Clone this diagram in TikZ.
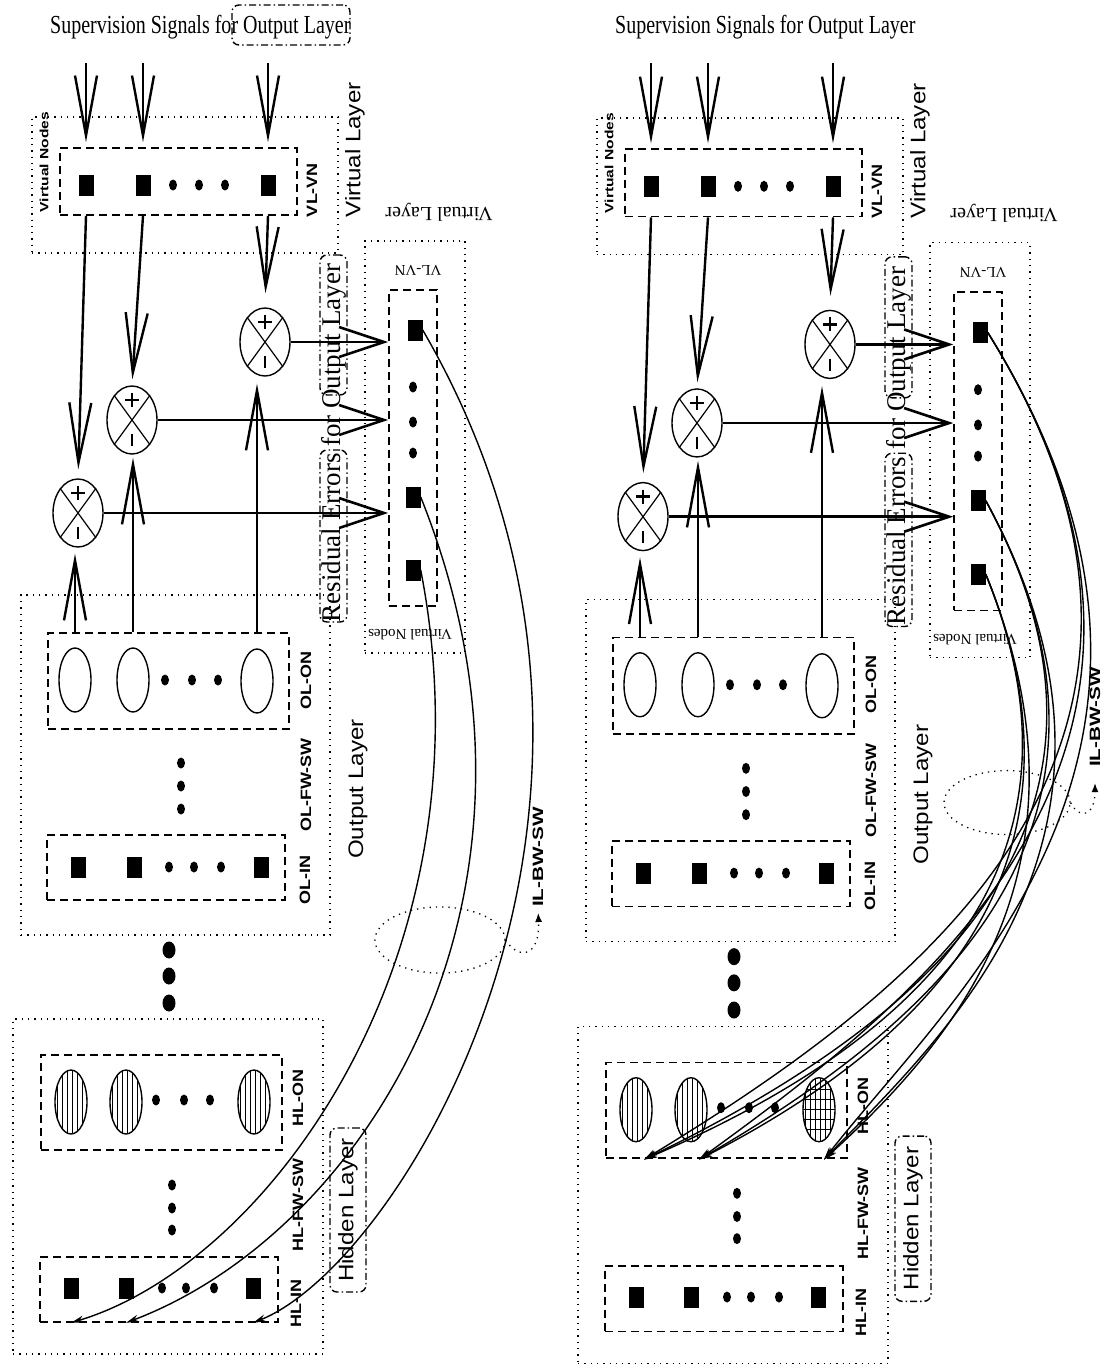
\documentclass[tikz,border=0pt]{standalone}
\usepackage{fontspec}
\setmainfont{Liberation Serif}
\setsansfont{Liberation Sans}
\usepackage{graphicx}
\usetikzlibrary{arrows.meta,shapes.geometric,fit}

\tikzset{
  dotbox/.style={draw, line width=1.3pt, dash pattern=on 1.3pt off 5pt},
  dashbox/.style={draw, line width=1.6pt, dash pattern=on 8pt off 5pt},
  dabox/.style={draw, line width=1.4pt, dash pattern=on 7pt off 3pt on 1.5pt off 3pt, rounded corners=7pt},
  sq/.style={fill=black, minimum width=15pt, minimum height=21pt, inner sep=0pt},
  dt/.style={fill=black, ellipse, minimum width=8pt, minimum height=11pt, inner sep=0pt},
  bigdot/.style={fill=black, ellipse, minimum width=13pt, minimum height=17pt, inner sep=0pt},
  neuron/.style={draw, ellipse, line width=1.4pt, minimum width=32pt, minimum height=64pt, inner sep=0pt},
  mult/.style={draw, ellipse, line width=1.4pt, minimum width=50pt, minimum height=68pt, inner sep=0pt},
  bigarrow/.style={line width=2.4pt, -{Straight Barb[length=60pt,width=22pt,line width=2.4pt]}},
  harrow/.style={line width=2.6pt, -{Straight Barb[length=45pt,width=30pt,line width=2.6pt]}},
  curve/.style={line width=1.4pt, -{Stealth[length=13pt,width=7pt]}},
  rlab/.style={rotate=90, inner sep=0pt},
  udlab/.style={rotate=180, inner sep=0pt},
  hatch/.style={path picture={\foreach \k in {-14,-9,...,16} {\draw[line width=1pt] ([xshift=\k pt]path picture bounding box.north) -- ([xshift=\k pt]path picture bounding box.south);}}},
  xhatch/.style={path picture={\foreach \k in {-14,-9,...,16} {\draw[line width=1pt] ([xshift=\k pt]path picture bounding box.north) -- ([xshift=\k pt]path picture bounding box.south);}
     \foreach \k in {-20,-10,...,20} {\draw[line width=1pt] ([yshift=\k pt]path picture bounding box.west) -- ([yshift=\k pt]path picture bounding box.east);}}},
}

\newcommand\slab[1]{\scalebox{1.2}[1]{\fontsize{15}{15}\selectfont\sffamily\bfseries #1}}
\newcommand\blab[1]{\scalebox{1.15}[1]{\fontsize{21}{21}\selectfont\sffamily #1}}
\newcommand\sz[2]{{\fontsize{#1}{#1}\selectfont #2}}
\newcommand\bx[6]{\node[#6, fit={(#2,#3) (#4,#5)}, inner sep=0pt] (#1) {};}
\newcommand\multnode[3]{%
  \node[mult] (#1) at (#2,#3) {};
  \draw[line width=1.2pt] (#1.54) -- (#1.234) (#1.126) -- (#1.306);
  \draw[line width=2.6pt] ([xshift=-7pt,yshift=20pt]#1.center) -- ([xshift=7pt,yshift=20pt]#1.center)
        ([yshift=27pt]#1.center) -- ([yshift=13pt]#1.center)
        ([yshift=-14pt]#1.center) -- ([yshift=-26pt]#1.center);
}

\newcommand\panel[2]{%
 % layer boxes
 \bx{#1-vl}{32}{117}{338}{253}{dotbox}
 \bx{#1-vlvn}{60}{148}{297}{215}{dashbox}
 \bx{#1-vl2}{365}{241}{465}{653}{dotbox}
 \bx{#1-vl2vn}{389}{290}{437}{606}{dashbox}
 \bx{#1-ol}{21}{595}{330}{935}{dotbox}
 \bx{#1-olon}{48}{633}{289}{729}{dashbox}
 \bx{#1-olin}{47}{835}{285}{900}{dashbox}
 \bx{#1-hl}{13}{1019}{323}{1354}{dotbox}
 \bx{#1-hlon}{41}{1055}{282}{1150}{dashbox}
 \bx{#1-hlin}{40}{1257}{278}{1322}{dashbox}
 % labels
 \node[rlab] (#1-lvnodes) at (44,162) {\scalebox{1.3}[1]{\fontsize{12}{12}\selectfont\sffamily\bfseries Virtual Nodes}};
 \node[rlab] (#1-lvlvn) at (312,190) {\slab{VL-VN}};
 \node[rlab] (#1-lvl) at (355,150) {\blab{Virtual Layer}};
 \node[udlab] (#1-lvl2) at (439,212) {\sz{20}{Virtual Layer}};
 \node[udlab] (#1-lvl2vn) at (418,270) {\sz{15}{VL-VN}};
 \node[udlab] (#1-lvl2nodes) at (410,635) {\sz{15}{Virtual Nodes}};
 \node[rlab] (#1-lres) at (334,443) {\sz{27}{Residual Errors for Output Layer}};
 \bx{#1-resbox1}{320}{450}{347}{622}{dabox}
 \bx{#1-resbox2}{320}{255}{347}{395}{dabox}
 \node[rlab] (#1-lolon) at (306,680) {\slab{OL-ON}};
 \node[rlab] (#1-lolfw) at (306,785) {\slab{OL-FW-SW}};
 \node[rlab] (#1-lolin) at (305,880) {\slab{OL-IN}};
 \node[rlab] (#1-lol) at (358,789) {\blab{Output Layer}};
 \node[rlab] (#1-lhlon) at (298,1098) {\slab{HL-ON}};
 \node[rlab] (#1-lhlfw) at (298,1205) {\slab{HL-FW-SW}};
 \node[rlab] (#1-lhlin) at (296,1303) {\slab{HL-IN}};
 \bx{#1-hidbox}{330}{1128}{366}{1292}{dabox}
 \node[rlab] (#1-lhid) at (348,1210) {\blab{Hidden Layer}};
 % virtual layer nodes
 \node[sq] (#1-q1) at (86,185) {};
 \node[sq] (#1-q2) at (143,185) {};
 \node[sq] (#1-q3) at (268,185) {};
 \foreach \x in {173,199,225} {\node[dt] (#1-qd\x) at (\x,185) {};}
 \node[sq] (#1-v1) at (415,330) {};
 \node[sq] (#1-v2) at (413,497) {};
 \node[sq] (#1-v3) at (413,570) {};
 \foreach \y in {387,422,453} {\node[dt] (#1-vd\y) at (413,\y) {};}
 % output layer
 \node[neuron] (#1-on1) at (75,680) {};
 \node[neuron] (#1-on2) at (133,680) {};
 \node[neuron] (#1-on3) at (257,681) {};
 \foreach \x in {165,192,218} {\node[dt] (#1-ond\x) at (\x,680) {};}
 \foreach \y in {763,786,809} {\node[dt] (#1-ofd\y) at (181,\y) {};}
 \node[sq] (#1-oi1) at (78,867) {};
 \node[sq] (#1-oi2) at (134,867) {};
 \node[sq] (#1-oi3) at (261,867) {};
 \foreach \x in {169,194,221} {\node[dt] (#1-oid\x) at (\x,867) {};}
 \foreach \y in {950,976,1003} {\node[bigdot] (#1-bd\y) at (169,\y) {};}
 % hidden layer
 \node[neuron, hatch] (#1-hn1) at (71,1102) {};
 \node[neuron, hatch] (#1-hn2) at (126,1102) {};
 \node[neuron, #2] (#1-hn3) at (254,1102) {};
 \foreach \x in {156,184,210} {\node[dt] (#1-hnd\x) at (\x,1100) {};}
 \foreach \y in {1185,1208,1230} {\node[dt] (#1-hfd\y) at (172,\y) {};}
 \node[sq] (#1-h1) at (71,1288) {};
 \node[sq] (#1-h2) at (126,1288) {};
 \node[sq] (#1-h3) at (253,1288) {};
 \foreach \x in {162,186,214} {\node[dt] (#1-hd\x) at (\x,1288) {};}
 % comparators
 \multnode{#1-m1}{78}{513}
 \multnode{#1-m2}{132}{420}
 \multnode{#1-m3}{265}{342}
 % supervision inputs
 \coordinate (#1-s1) at (86,63);
 \coordinate (#1-s2) at (143,63);
 \coordinate (#1-s3) at (268,63);
 \draw[bigarrow, shorten >=5pt] (#1-s1) -- (#1-s1 |- #1-vlvn.north);
 \draw[bigarrow, shorten >=5pt] (#1-s2) -- (#1-s2 |- #1-vlvn.north);
 \draw[bigarrow, shorten >=5pt] (#1-s3) -- (#1-s3 |- #1-vlvn.north);
 \draw[bigarrow, shorten >=9pt] (#1-q1 |- #1-vlvn.south) -- (#1-m1.north);
 \draw[bigarrow, shorten >=6pt] (#1-q2 |- #1-vlvn.south) -- (#1-m2.north);
 \draw[bigarrow, shorten >=14pt] (#1-q3 |- #1-vlvn.south) -- (#1-m3.north);
 \draw[bigarrow, shorten >=6pt] (#1-on1 |- #1-olon.north) -- (#1-on1 |- #1-m1.south);
 \draw[bigarrow, shorten >=3pt] (#1-on2 |- #1-olon.north) -- (#1-on2 |- #1-m2.south);
 \draw[bigarrow, shorten >=7pt] (#1-on3 |- #1-olon.north) -- (#1-on3 |- #1-m3.south);
 \draw[harrow] (#1-m3.east) -- (#1-m3.east -| #1-vl2vn.west);
 \draw[harrow] (#1-m2.east) -- (#1-m2.east -| #1-vl2vn.west);
 \draw[harrow] (#1-m1.east) -- (#1-m1.east -| #1-vl2vn.west);
}

\begin{document}
\begin{tikzpicture}[x=1pt, y=-1pt]
\useasboundingbox (0,0) rectangle (1116,1371);
\fill[white] (0,0) rectangle (1116,1371);

% ---------------- left panel ----------------
\node[anchor=base west, inner sep=0pt] (L-title) at (50,33) {\scalebox{.77}[1]{\fontsize{26}{26}\selectfont Supervision Signals for Output Layer}};
\bx{L-titlebox}{232}{5}{350}{45}{dabox}
\panel{L}{hatch}
\node[ellipse, dotbox, minimum width=130pt, minimum height=66pt, inner sep=0pt] (L-il) at (440,940) {};
\node[rlab] (L-ilbw) at (538,857) {\scalebox{1.38}[1]{\fontsize{15}{15}\selectfont\sffamily\bfseries IL-BW-SW}};
\draw[dotbox, -{Latex[length=9pt,width=7pt]}, shorten >=6pt] (L-il.east) .. controls (518,960) and (540,958) .. (L-ilbw.west);
\draw[curve] (L-v1.east) .. controls (690,790) and (405,1262) .. (L-h3 |- L-hlin.south);
\draw[curve] (L-v2.east) .. controls (580,895) and (365,1232) .. (L-h2 |- L-hlin.south);
\draw[curve] (L-v3.east) .. controls (495,950) and (272,1262) .. (L-h1 |- L-hlin.south);

% ---------------- right panel ----------------
\begin{scope}[shift={(565,0)}, yscale=1.007]
\node[anchor=base west, inner sep=0pt] (R-title) at (50,33) {\scalebox{.77}[1]{\fontsize{26}{26}\selectfont Supervision Signals for Output Layer}};
\panel{R}{xhatch}
\node[ellipse, dotbox, minimum width=126pt, minimum height=64pt, inner sep=0pt] (R-il) at (442,797) {};
\node[rlab] (R-ilbw) at (530,712) {\scalebox{1.38}[1]{\fontsize{15}{15}\selectfont\sffamily\bfseries IL-BW-SW}};
\draw[dotbox, -{Latex[length=9pt,width=7pt]}, shorten >=16pt] (R-il.east) .. controls (515,815) and (530,810) .. (R-ilbw.west);
\path (R-hn1 |- R-hlon.south) ++(8,0) coordinate (R-t1);
\path (R-hn2 |- R-hlon.south) ++(8,0) coordinate (R-t2);
\path (R-hn3 |- R-hlon.south) ++(5,0) coordinate (R-t3);
\draw[curve] (R-v1.east) .. controls (680,740) and (353,986) .. (R-t1);
\draw[curve] (R-v1.east) .. controls (680,740) and (364,986) .. (R-t2);
\draw[curve] (R-v1.east) .. controls (680,740) and (389,986) .. (R-t3);
\draw[curve] (R-v2.east) .. controls (600,823) and (353,1019) .. (R-t1);
\draw[curve] (R-v2.east) .. controls (600,823) and (364,1019) .. (R-t2);
\draw[curve] (R-v2.east) .. controls (600,823) and (389,1019) .. (R-t3);
\draw[curve] (R-v3.east) .. controls (540,860) and (353,1034) .. (R-t1);
\draw[curve] (R-v3.east) .. controls (540,860) and (364,1034) .. (R-t2);
\draw[curve] (R-v3.east) .. controls (540,860) and (389,1034) .. (R-t3);
\end{scope}
\end{tikzpicture}
\end{document}
